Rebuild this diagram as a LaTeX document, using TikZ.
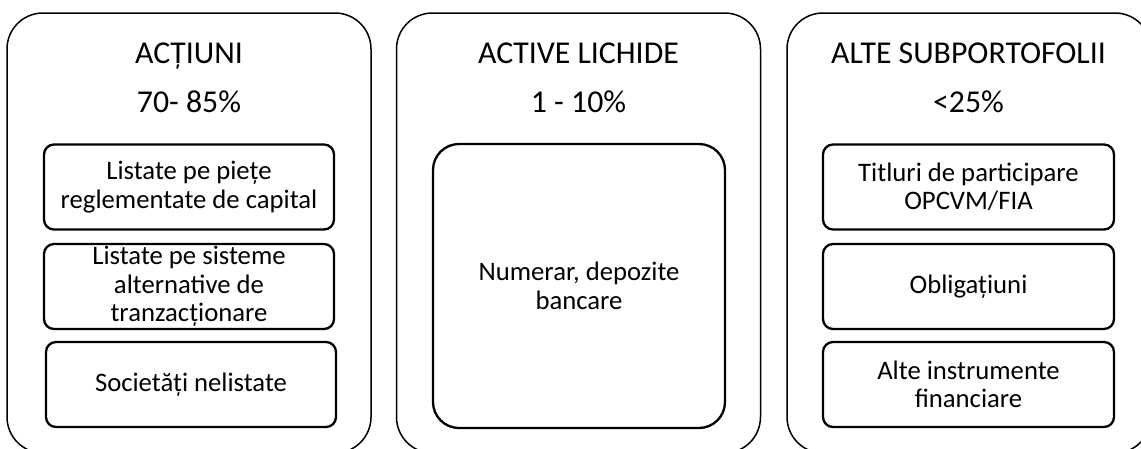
\documentclass[tikz,border=0pt]{standalone}
\usepackage{fontspec}
\setmainfont{Carlito}
\begin{document}
\begin{tikzpicture}[x=1pt,y=-1pt,
  outerbox/.style={draw=black,line width=1.5pt,rounded corners=36pt,minimum width=364pt,minimum height=440pt,inner sep=0pt},
  itembox/.style={draw=black,line width=2.3pt,rounded corners=10pt,minimum width=290pt,minimum height=85pt,inner sep=0pt,align=center,font=\fontsize{26.7pt}{28.5pt}\selectfont},
  cashbox/.style={draw=black,line width=2.3pt,rounded corners=26pt,minimum width=292pt,minimum height=284pt,inner sep=0pt,align=center,font=\fontsize{26.7pt}{28.5pt}\selectfont},
  title/.style={anchor=base,inner sep=0pt,font=\fontsize{31.8pt}{34pt}\selectfont}
]
\useasboundingbox (0,0) rectangle (1141,448);
\clip (0,0) rectangle (1141,448);
% outer boxes
\node[outerbox] (b1) at (189,233) {};
\node[outerbox] (b2) at (578.5,233) {};
\node[outerbox] (b3) at (969,233) {};
% titles
\node[title] (t1) at (189,63) {ACȚIUNI};
\node[title] (p1) at (189,112) {70- 85\%};
\node[title] (t2) at (578.5,63) {ACTIVE LICHIDE};
\node[title] (p2) at (578.5,112) {1 - 10\%};
\node[title] (t3) at (968.5,63) {ALTE SUBPORTOFOLII};
\node[title] (p3) at (968.5,112) {<25\%};
% column 1
\node[itembox] (a1) at (189,187) {Listate pe piețe\\reglementate de capital};
\node[itembox] (a2) at (189,286.5) {Listate pe sisteme\\alternative de\\tranzacționare};
\node[itembox] (a3) at (191,384.5) {Societăți nelistate};
% column 2
\node[cashbox] (c1) at (579,286) {Numerar, depozite\\bancare};
% column 3
\node[itembox,minimum width=291pt] (d1) at (968.5,187) {Titluri de participare\\OPCVM/FIA};
\node[itembox,minimum width=291pt] (d2) at (968.5,286.5) {Obligațiuni};
\node[itembox,minimum width=291pt] (d3) at (968.5,384.5) {Alte instrumente\\financiare};
\end{tikzpicture}
\end{document}
